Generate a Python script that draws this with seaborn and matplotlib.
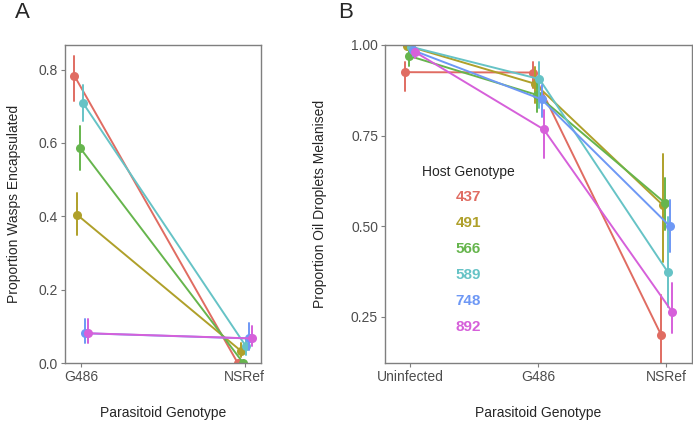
import matplotlib.pyplot as plt
from matplotlib.lines import Line2D
from matplotlib.ticker import FormatStrFormatter
import seaborn as sns
import numpy as np
import pandas as pd

# categories
hosts = ['437', '491', '566', '589', '748', '892']
host_colors = ['#E06C62', '#AFA02A', '#66B54D', '#66C3C6', '#6E98F5', '#D660DA']
parasitoids_a = ['G486', 'NSRef']
parasitoids_b = ['Uninfected', 'G486', 'NSRef']

# panel A: proportion wasps encapsulated (estimate, lower, upper) per host, per parasitoid
enc_est = [[0.783, 0.000], [0.404, 0.034], [0.587, 0.000], [0.710, 0.045], [0.081, 0.067], [0.081, 0.067]]
enc_lo = [[0.715, 0.000], [0.349, 0.017], [0.527, 0.000], [0.661, 0.022], [0.055, 0.035], [0.055, 0.045]]
enc_hi = [[0.838, 0.000], [0.463, 0.054], [0.645, 0.000], [0.758, 0.068], [0.119, 0.109], [0.119, 0.100]]

# panel B: proportion oil droplets melanised
mel_est = [[0.925, 0.924, 0.200], [0.998, 0.893, 0.557], [0.970, 0.862, 0.563],
           [0.995, 0.906, 0.374], [0.985, 0.850, 0.500], [0.980, 0.767, 0.264]]
mel_lo = [[0.873, 0.880, 0.080], [0.990, 0.840, 0.400], [0.943, 0.816, 0.489],
          [0.985, 0.826, 0.277], [0.970, 0.802, 0.429], [0.965, 0.687, 0.204]]
mel_hi = [[0.954, 0.954, 0.310], [1.000, 0.940, 0.700], [0.986, 0.900, 0.632],
          [1.000, 0.952, 0.526], [0.995, 0.890, 0.572], [0.990, 0.820, 0.342]]


def long_table(cats, est, lo, hi):
    # three rows per cell (lo, est, hi): median gives the estimate, 0-100 percentile gives the interval
    rows = []
    for i, h in enumerate(hosts):
        for j, c in enumerate(cats):
            for v in (lo[i][j], est[i][j], hi[i][j]):
                rows.append({'host': h, 'parasitoid': c, 'value': v})
    return pd.DataFrame(rows)


df_a = long_table(parasitoids_a, enc_est, enc_lo, enc_hi)
df_b = long_table(parasitoids_b, mel_est, mel_lo, mel_hi)

sns.set_style('white')
plt.rcParams['font.family'] = ['Liberation Sans', 'DejaVu Sans']

fig = plt.figure(figsize=(6.93, 4.23), dpi=100)
ax1 = fig.add_axes([65/693, 60/423, 196/693, 318/423])
ax2 = fig.add_axes([385/693, 60/423, 306.5/693, 318/423])

pal = dict(zip(hosts, host_colors))
point_kws = dict(x='parasitoid', y='value', hue='host', hue_order=hosts, palette=pal,
                 estimator='median', errorbar=('pi', 100), dodge=0.085, legend=False,
                 linewidth=1.4, markersize=6.5, markeredgewidth=0, err_kws={'linewidth': 1.4})

sns.pointplot(data=df_a, order=parasitoids_a, ax=ax1, **point_kws)
sns.pointplot(data=df_b, order=parasitoids_b, ax=ax2, **point_kws)

ax1.set_xlim(-0.1, 1.1)
ax1.set_ylim(0, 0.867)
ax1.set_yticks([0, 0.2, 0.4, 0.6, 0.8])
ax1.yaxis.set_major_formatter(FormatStrFormatter('%.1f'))
ax1.set_ylabel('Proportion Wasps Encapsulated', fontsize=10)
ax1.yaxis.set_label_coords(-0.225, 0.5)

ax2.set_xlim(-0.195, 2.195)
ax2.set_ylim(0.122, 1.0)
ax2.set_yticks([0.25, 0.5, 0.75, 1.0])
ax2.yaxis.set_major_formatter(FormatStrFormatter('%.2f'))
ax2.set_ylabel('Proportion Oil Droplets Melanised', fontsize=10)
ax2.yaxis.set_label_coords(-0.19, 0.5)

for ax in (ax1, ax2):
    ax.set_xlabel('Parasitoid Genotype', fontsize=10)
    ax.xaxis.set_label_coords(0.5, -0.135)
    ax.tick_params(axis='both', length=3, width=0.8, color='#7F7F7F',
                   labelcolor='#4D4D4D', labelsize=10, pad=2, bottom=True, left=True)
    for s in ax.spines.values():
        s.set_color('#7F7F7F')
        s.set_linewidth(1.0)

# text-only legend with coloured labels
handles = [Line2D([], [], linestyle='none') for h in hosts]
leg = ax2.legend(handles, hosts, title='Host Genotype', loc='upper center',
                 bbox_to_anchor=(0.271, 0.665), frameon=False, handlelength=0,
                 handletextpad=0, labelspacing=0.78, fontsize=11,
                 title_fontsize=10)
leg._legend_box.align = 'center'
leg._legend_box.sep = 8
for t, c in zip(leg.get_texts(), host_colors):
    t.set_color(c)
    t.set_fontweight('bold')

fig.text(15/693, 1 - 2/423, 'A', fontsize=16, va='top', ha='left')
fig.text(338/693, 1 - 2/423, 'B', fontsize=16, va='top', ha='left')

fig.savefig('out.png', dpi=100)
